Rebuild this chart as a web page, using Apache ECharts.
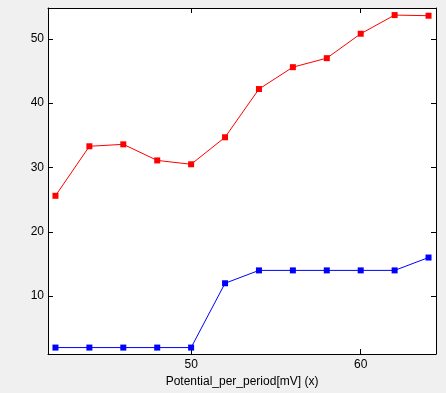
<!DOCTYPE html>
<html><head><meta charset="utf-8">
<script src="https://cdn.jsdelivr.net/npm/echarts@6/dist/echarts.min.js"></script>
<style>html,body{margin:0;padding:0;background:#f0f0f0}#c{width:446px;height:393px}</style>
</head><body><div id="c"></div>
<script>
const xValues = [42, 44, 46, 48, 50, 52, 54, 56, 58, 60, 62, 64];
const redValues = [25.6, 33.3, 33.6, 31.1, 30.5, 34.7, 42.2, 45.6, 47.0, 50.8, 53.7, 53.6];
const blueValues = [2, 2, 2, 2, 2, 12, 14, 14, 14, 14, 14, 16];
const xTicks = [50, 60];
const yTicks = [10, 20, 30, 40, 50];
const xTitle = 'Potential_per_period[mV] (x)';

const font = {fontFamily: 'Liberation Sans, Arial, sans-serif', fontSize: 12, color: '#000'};
const pairs = a => xValues.map((x, i) => [x, a[i]]);
const chart = echarts.init(document.getElementById('c'));
const xBase = {type: 'value', min: 41.56, max: 64.44, splitLine: {show: false},
  axisLine: {show: true, onZero: false, lineStyle: {color: '#000', width: 1}},
  axisTick: {show: true, inside: true, length: 5, customValues: xTicks, lineStyle: {color: '#000'}}};
const yBase = {type: 'value', min: 1.0, max: 54.8, splitLine: {show: false},
  axisLine: {show: true, onZero: false, lineStyle: {color: '#000', width: 1}},
  axisTick: {show: true, inside: true, length: 5, customValues: yTicks, lineStyle: {color: '#000'}}};
chart.setOption({
  animation: false,
  backgroundColor: '#f0f0f0',
  grid: {left: 48, top: 8, right: 10, bottom: 38, show: true, backgroundColor: '#fff', borderWidth: 0},
  xAxis: [
    Object.assign({}, xBase, {position: 'bottom', name: xTitle, nameLocation: 'middle', nameGap: 22,
      nameTextStyle: font,
      axisLabel: Object.assign({show: true, customValues: xTicks, margin: 5}, font)}),
    Object.assign({}, xBase, {position: 'top', axisLabel: {show: false}})
  ],
  yAxis: [
    Object.assign({}, yBase, {position: 'left',
      axisLabel: Object.assign({show: true, customValues: yTicks, margin: 4}, font)}),
    Object.assign({}, yBase, {position: 'right', axisLabel: {show: false}})
  ],
  series: [
    {type: 'line', data: pairs(redValues), symbol: 'rect', symbolSize: 6, showSymbol: true,
     lineStyle: {color: '#ff0000', width: 1}, itemStyle: {color: '#ff0000'}},
    {type: 'line', data: pairs(blueValues), symbol: 'rect', symbolSize: 6, showSymbol: true,
     lineStyle: {color: '#0000ff', width: 1}, itemStyle: {color: '#0000ff'}}
  ]
});
</script></body></html>
